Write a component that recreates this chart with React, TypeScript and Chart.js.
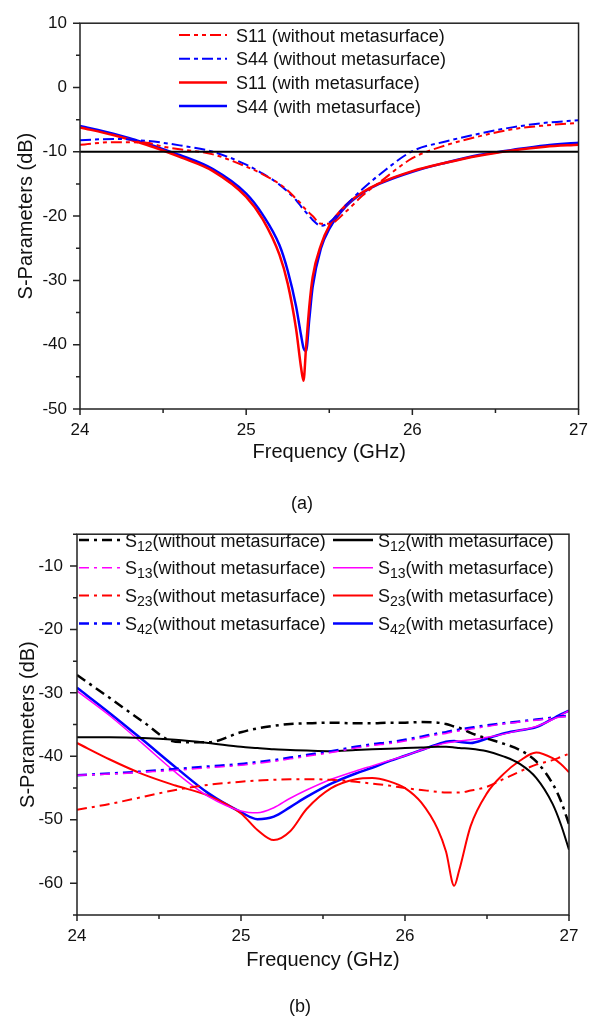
import React, { useEffect, useRef } from "react";
import { Chart, registerables } from "chart.js";
Chart.register(...registerables);

const FONT = '"Liberation Sans", Arial, Helvetica, sans-serif';

// ---------- Chart (a) data ----------
const freqA = [24, 24.2, 24.4, 24.5, 24.6, 24.8, 25.0, 25.1, 25.2, 25.25, 25.3, 25.33, 25.345, 25.36, 25.38, 25.4, 25.45, 25.5, 25.6, 25.7, 25.8, 26.0, 26.2, 26.4, 26.6, 26.8, 27.0];
const s11WithoutA = [-8.9, -8.5, -8.6, -9.2, -9.6, -10.4, -12.3, -13.5, -15.0, -16.0, -17.3, -18.1, -18.6, -19.0, -19.5, -20.0, -21.2, -21.2, -19.3, -16.8, -14.8, -11.0, -9.0, -7.6, -6.5, -5.9, -5.5];
const s44WithoutA = [-8.2, -8.0, -8.3, -8.6, -9.0, -10.0, -12.0, -13.4, -15.1, -16.2, -17.5, -18.5, -19.0, -19.4, -20.0, -20.6, -21.5, -21.0, -18.3, -15.8, -13.6, -9.9, -8.4, -7.2, -6.2, -5.5, -5.1];
const s11WithA = [-6.2, -7.4, -8.9, -9.8, -10.8, -13.0, -17.0, -20.5, -26.0, -30.5, -37.5, -43.5, -45.6, -40.5, -34.0, -29.5, -24.5, -21.5, -18.3, -16.3, -14.9, -13.0, -11.7, -10.6, -9.8, -9.2, -8.9];
const s44WithA = [-6.0, -7.2, -8.7, -9.6, -10.5, -12.7, -16.5, -19.8, -24.5, -28.5, -34.0, -38.5, -40.5, -41.0, -36.0, -31.0, -25.0, -22.0, -18.5, -16.4, -15.0, -13.1, -11.7, -10.5, -9.7, -9.0, -8.6];
const refLineX = [24, 27];
const refLineY = [-10, -10];
const xTicks = [24, 25, 26, 27];
const xMinor = [24.5, 25.5, 26.5];
const yTicksA = [-50, -40, -30, -20, -10, 0, 10];
const yMinorA = [-45, -35, -25, -15, -5, 5];

// ---------- Chart (b) data ----------
const freqB = [24, 24.2, 24.4, 24.6, 24.8, 25.0, 25.1, 25.2, 25.3, 25.4, 25.55, 25.7, 25.8, 25.9, 26.0, 26.1, 26.2, 26.25, 26.3, 26.33, 26.4, 26.5, 26.6, 26.7, 26.8, 26.9, 26.95, 27.0];
const s12Without = [-27.2, -30.8, -34.5, -37.7, -37.8, -36.2, -35.6, -35.2, -34.9, -34.8, -34.7, -34.8, -34.8, -34.7, -34.7, -34.6, -34.7, -34.9, -35.3, -35.5, -36.3, -37.2, -38.0, -39.0, -40.8, -44.3, -47.0, -50.7];
const s12With = [-37.0, -37.0, -37.1, -37.4, -37.9, -38.5, -38.7, -38.9, -39.0, -39.1, -39.2, -39.0, -38.9, -38.8, -38.7, -38.6, -38.5, -38.5, -38.6, -38.7, -38.8, -39.2, -40.0, -41.2, -43.4, -47.5, -50.7, -54.7];
const s13Without = [-43.0, -42.8, -42.5, -42.2, -41.8, -41.4, -41.1, -40.8, -40.4, -40.0, -39.4, -38.7, -38.3, -38.0, -37.6, -37.1, -36.6, -36.4, -36.1, -36.0, -35.7, -35.3, -34.9, -34.6, -34.3, -34.0, -33.8, -33.7];
const s13With = [-29.7, -33.6, -38.0, -42.5, -46.3, -48.6, -48.9, -48.1, -46.6, -45.3, -43.6, -42.3, -41.5, -40.7, -39.9, -39.0, -38.2, -37.9, -37.7, -37.6, -37.4, -37.0, -36.5, -35.9, -35.3, -34.2, -33.5, -32.8];
const s23Without = [-48.4, -47.5, -46.4, -45.3, -44.5, -44.0, -43.8, -43.7, -43.6, -43.6, -43.7, -44.0, -44.3, -44.6, -45.0, -45.3, -45.6, -45.7, -45.7, -45.7, -45.4, -44.8, -43.6, -42.4, -41.3, -40.6, -40.1, -39.6];
const s23With = [-37.9, -40.5, -42.8, -44.6, -46.2, -49.0, -51.6, -53.2, -51.8, -48.3, -45.0, -43.6, -43.4, -43.9, -45.0, -47.3, -51.5, -55.0, -60.4, -58.0, -51.0, -45.8, -42.8, -40.7, -39.4, -40.3, -41.2, -42.5];
const s42Without = [-43.0, -42.7, -42.4, -42.0, -41.6, -41.2, -40.9, -40.6, -40.2, -39.8, -39.2, -38.5, -38.1, -37.8, -37.4, -36.9, -36.4, -36.2, -35.9, -35.8, -35.5, -35.1, -34.8, -34.5, -34.2, -33.9, -33.7, -33.6];
const s42With = [-29.2, -33.2, -37.4, -41.7, -45.8, -48.8, -49.9, -49.5, -48.0, -46.4, -44.3, -42.7, -41.8, -40.8, -39.9, -39.0, -38.1, -37.7, -37.6, -37.7, -37.9, -37.2, -36.4, -35.9, -35.4, -34.1, -33.4, -32.8];
const yTicksB = [-60, -50, -40, -30, -20, -10];
const yMinorB = [-65, -55, -45, -35, -25, -15, -5];

const RED = "#FF0000";
const BLUE = "#0000FF";
const MAG = "#FF00FF";
const BLACK = "#000000";

const pts = (xs: number[], ys: number[]) => xs.map((x, i) => ({ x, y: ys[i] }));

type LegendItem = { color: string; dash: number[]; width: number; main: string; sub?: string; rest?: string; lx0: number; lx1: number; tx: number; y: number };

type Decor = {
  xMajor: number[]; xMinor: number[]; yMajor: number[]; yMinor: number[];
  xTitleY: number; yTitleX: number; caption: string; captionX: number; captionY: number;
  legend: LegendItem[];
};

function makeDecor(d: Decor) {
  return {
    id: "decor",
    afterDatasetsDraw(chart: any) {
      const { ctx, chartArea: a, scales } = chart;
      const x = scales.x, y = scales.y;
      ctx.save();
      ctx.strokeStyle = "#222";
      ctx.lineWidth = 1.5;
      ctx.setLineDash([]);
      ctx.strokeRect(a.left, a.top, a.right - a.left, a.bottom - a.top);
      ctx.beginPath();
      for (const v of d.xMajor) { const p = x.getPixelForValue(v); ctx.moveTo(p, a.bottom); ctx.lineTo(p, a.bottom + 6); }
      for (const v of d.xMinor) { const p = x.getPixelForValue(v); ctx.moveTo(p, a.bottom); ctx.lineTo(p, a.bottom + 4); }
      for (const v of d.yMajor) { const p = y.getPixelForValue(v); ctx.moveTo(a.left, p); ctx.lineTo(a.left - 7, p); }
      for (const v of d.yMinor) { const p = y.getPixelForValue(v); ctx.moveTo(a.left, p); ctx.lineTo(a.left - 4, p); }
      ctx.stroke();

      // titles
      ctx.fillStyle = "#111";
      ctx.font = `20px ${FONT}`;
      ctx.textAlign = "center";
      ctx.textBaseline = "middle";
      ctx.fillText("Frequency (GHz)", (a.left + a.right) / 2, d.xTitleY);
      ctx.save();
      ctx.translate(d.yTitleX, (a.top + a.bottom) / 2);
      ctx.rotate(-Math.PI / 2);
      ctx.fillText("S-Parameters (dB)", 0, 0);
      ctx.restore();
      ctx.font = `18px ${FONT}`;
      ctx.fillText(d.caption, d.captionX, d.captionY);

      // legend
      for (const it of d.legend) {
        ctx.strokeStyle = it.color;
        ctx.lineWidth = it.width;
        ctx.setLineDash(it.dash);
        ctx.beginPath();
        ctx.moveTo(it.lx0, it.y);
        ctx.lineTo(it.lx1, it.y);
        ctx.stroke();
        ctx.setLineDash([]);
        ctx.fillStyle = "#111";
        ctx.textAlign = "left";
        ctx.textBaseline = "alphabetic";
        const base = it.y + 6.5;
        ctx.font = `18px ${FONT}`;
        let cx = it.tx;
        ctx.fillText(it.main, cx, base);
        cx += ctx.measureText(it.main).width;
        if (it.sub) {
          ctx.font = `14px ${FONT}`;
          ctx.fillText(it.sub, cx, base + 4);
          cx += ctx.measureText(it.sub).width;
          ctx.font = `18px ${FONT}`;
        }
        if (it.rest) ctx.fillText(it.rest, cx, base);
      }
      ctx.restore();
    },
  };
}

function scaleOpts(min: number, max: number, ticks: number[], pad: number, fitSize: number, isX: boolean) {
  return {
    type: "linear",
    min, max,
    grid: { display: false, drawTicks: false },
    border: { display: false },
    ticks: {
      font: { family: FONT, size: 17 },
      color: "#111",
      padding: pad,
      autoSkip: false,
      maxRotation: 0,
      callback: (v: any) => String(v),
    },
    afterBuildTicks: (s: any) => { s.ticks = ticks.map((v) => ({ value: v })); },
    afterFit: (s: any) => { if (isX) s.height = fitSize; else s.width = fitSize; },
  };
}

const line = (data: any, color: string, width: number, dash: number[]) => ({
  data, borderColor: color, backgroundColor: color, borderWidth: width, borderDash: dash,
  pointRadius: 0, fill: false, cubicInterpolationMode: "monotone",
});

const DASH_A_RED = [11, 4, 4, 4, 4, 4];
const DASH_A_BLUE = [11, 4, 4, 4];
const DASH_B = [10, 5, 3, 5];

export default function App() {
  const refA = useRef<HTMLCanvasElement>(null);
  const refB = useRef<HTMLCanvasElement>(null);

  useEffect(() => {
    const legendA: LegendItem[] = [
      { color: RED, dash: DASH_A_RED, width: 2, main: "S11 (without metasurface)", lx0: 179, lx1: 227, tx: 236, y: 35 },
      { color: BLUE, dash: DASH_A_BLUE, width: 2, main: "S44 (without metasurface)", lx0: 179, lx1: 227, tx: 236, y: 58.7 },
      { color: RED, dash: [], width: 2.5, main: "S11 (with metasurface)", lx0: 179, lx1: 227, tx: 236, y: 82.4 },
      { color: BLUE, dash: [], width: 2.5, main: "S44 (with metasurface)", lx0: 179, lx1: 227, tx: 236, y: 106 },
    ];
    const chartA = new Chart(refA.current as HTMLCanvasElement, {
      type: "line",
      data: {
        datasets: [
          line(pts(refLineX, refLineY), BLACK, 2, []),
          line(pts(freqA, s11WithoutA), RED, 2, DASH_A_RED),
          line(pts(freqA, s44WithoutA), BLUE, 2, DASH_A_BLUE),
          line(pts(freqA, s11WithA), RED, 2.5, []),
          line(pts(freqA, s44WithA), BLUE, 2.5, []),
        ] as any,
      },
      options: {
        animation: false,
        responsive: false,
        devicePixelRatio: 1,
        layout: { padding: { left: 0, right: 19, top: 16, bottom: 0 } },
        plugins: { legend: { display: false }, tooltip: { enabled: false } },
        scales: {
          x: scaleOpts(24, 27, xTicks, 11, 111, true) as any,
          y: scaleOpts(-50, 10, yTicksA, 13, 80, false) as any,
        },
      },
      plugins: [makeDecor({
        xMajor: xTicks, xMinor, yMajor: yTicksA, yMinor: yMinorA,
        xTitleY: 452, yTitleX: 26, caption: "(a)", captionX: 302, captionY: 504, legend: legendA,
      })],
    });

    const by = 510;
    const rows = [540, 567.8, 595.6, 623.4].map((v) => v - by);
    const namesB = ["12", "13", "23", "42"];
    const colorsB = [BLACK, MAG, RED, BLUE];
    const widthsB = [2.5, 1.5, 2, 2.5];
    const legendB: LegendItem[] = [];
    namesB.forEach((n, i) => {
      legendB.push({ color: colorsB[i], dash: DASH_B, width: widthsB[i], main: "S", sub: n, rest: "(without metasurface)", lx0: 79, lx1: 121, tx: 125, y: rows[i] });
      legendB.push({ color: colorsB[i], dash: [], width: widthsB[i], main: "S", sub: n, rest: "(with metasurface)", lx0: 333, lx1: 373, tx: 378, y: rows[i] });
    });
    const chartB = new Chart(refB.current as HTMLCanvasElement, {
      type: "line",
      data: {
        datasets: [
          line(pts(freqB, s13Without), MAG, 1.5, DASH_B),
          line(pts(freqB, s42Without), BLUE, 2.5, DASH_B),
          line(pts(freqB, s23Without), RED, 2, DASH_B),
          line(pts(freqB, s12Without), BLACK, 2.5, DASH_B),
          line(pts(freqB, s12With), BLACK, 2, []),
          line(pts(freqB, s13With), MAG, 1.5, []),
          line(pts(freqB, s23With), RED, 2, []),
          line(pts(freqB, s42With), BLUE, 2.5, []),
        ] as any,
      },
      options: {
        animation: false,
        responsive: false,
        devicePixelRatio: 1,
        layout: { padding: { left: 0, right: 30, top: 11, bottom: 0 } },
        plugins: { legend: { display: false }, tooltip: { enabled: false } },
        scales: {
          x: scaleOpts(24, 27, xTicks, 11, 102, true) as any,
          y: scaleOpts(-65, -5, yTicksB, 14, 77, false) as any,
        },
      },
      plugins: [makeDecor({
        xMajor: xTicks, xMinor, yMajor: yTicksB, yMinor: yMinorB,
        xTitleY: 960 - by, yTitleX: 28, caption: "(b)", captionX: 300, captionY: 1007 - by, legend: legendB,
      })],
    });

    return () => { chartA.destroy(); chartB.destroy(); };
  }, []);

  return (
    <div style={{ position: "absolute", left: 0, top: 0, width: 599, height: 1017, background: "#fff", overflow: "hidden" }}>
      <canvas ref={refA} width={599} height={520} style={{ position: "absolute", left: 0, top: 0 }} />
      <canvas ref={refB} width={599} height={507} style={{ position: "absolute", left: 0, top: 510 }} />
    </div>
  );
}
